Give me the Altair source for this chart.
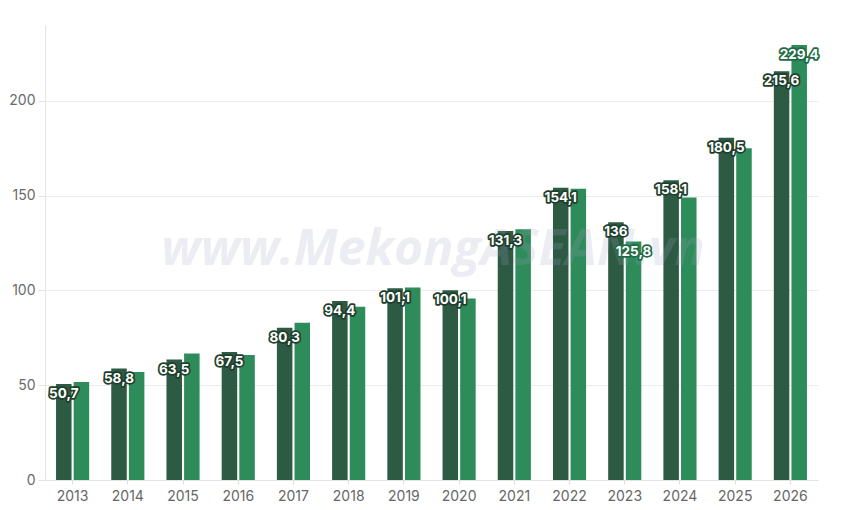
import altair as alt
import pandas as pd

years = ["2013", "2014", "2015", "2016", "2017", "2018", "2019",
         "2020", "2021", "2022", "2023", "2024", "2025", "2026"]
series_a = [50.7, 58.8, 63.5, 67.5, 80.3, 94.4, 101.1,
            100.1, 131.3, 154.1, 136, 158.1, 180.5, 215.6]
series_b = [51.7, 57.0, 66.7, 66.0, 82.9, 91.4, 101.6,
            95.8, 132.3, 153.6, 125.8, 149.0, 175.0, 229.4]
labels_a = ["50,7", "58,8", "63,5", "67,5", "80,3", "94,4", "101,1",
            "100,1", "131,3", "154,1", "136", "158,1", "180,5", "215,6"]
labels_b = ["", "", "", "", "", "", "", "", "", "", "125,8", "", "", "229,4"]
series_names = ["A", "B"]
watermark = "www.MekongASEAN.vn"

rows = []
for i, y in enumerate(years):
    rows.append({"year": y, "series": series_names[0], "value": series_a[i], "label": labels_a[i]})
    rows.append({"year": y, "series": series_names[1], "value": series_b[i], "label": labels_b[i]})
df = pd.DataFrame(rows)

FONT = "Inter"
colors = ["#2d5a43", "#2e8b5a"]
halo = ["#1f3f2e", "#1f6b45"]

x_enc = alt.X("year:N", title=None, sort=years,
              scale=alt.Scale(paddingInner=0.4, paddingOuter=0.2),
              axis=alt.Axis(labelAngle=0, labelFontSize=14, labelColor="#666666",
                            labelFont=FONT, tickSize=4, tickColor="#dddddd",
                            domainColor="#e3e3e3", labelPadding=5, grid=False))
xo = alt.XOffset("series:N", scale=alt.Scale(paddingInner=0.12), sort=series_names)
y_enc = alt.Y("value:Q", title=None,
              scale=alt.Scale(domain=[0, 240], nice=False),
              axis=alt.Axis(values=[0, 50, 100, 150, 200], labelFontSize=14,
                            labelColor="#6a6a6a", labelFont=FONT, tickSize=7,
                            tickColor="#e3e3e3", domainColor="#e3e3e3",
                            gridColor="#ececec", labelPadding=3))

base = alt.Chart(df)

bars = base.mark_bar().encode(
    x=x_enc, xOffset=xo, y=y_enc,
    color=alt.Color("series:N", scale=alt.Scale(domain=series_names, range=colors), legend=None),
)

wm = alt.Chart(pd.DataFrame({"t": [watermark]})).mark_text(
    font="Open Sans", fontSize=50, fontWeight="bold", fontStyle="italic",
    color="#a2a2c4", opacity=0.2, align="center", baseline="middle"
).encode(text="t:N", x=alt.value(388), y=alt.value(225))

lab = base.transform_filter("datum.label != ''")
text_halo = lab.mark_text(
    fontSize=13.5, fontWeight="bold", font=FONT, baseline="middle", align="center",
    dy=10, strokeWidth=3.5, strokeJoin="round"
).encode(
    x=alt.X("year:N", sort=years), xOffset=alt.XOffset("series:N", sort=series_names),
    y="value:Q", text="label:N",
    stroke=alt.Stroke("series:N", scale=alt.Scale(domain=series_names, range=halo), legend=None),
    fill=alt.Fill("series:N", scale=alt.Scale(domain=series_names, range=halo), legend=None),
)
text_fg = lab.mark_text(
    fontSize=13.5, fontWeight="bold", font=FONT, baseline="middle", align="center",
    dy=10, color="white"
).encode(
    x=alt.X("year:N", sort=years), xOffset=alt.XOffset("series:N", sort=series_names),
    y="value:Q", text="label:N",
)

chart = alt.layer(bars, wm, text_halo, text_fg).resolve_scale(
    color="independent", stroke="independent", fill="independent"
).properties(
    width=773, height=455,
    background="white",
    autosize=alt.AutoSizeParams(type="none"),
    padding={"left": 45, "top": 25, "right": 32, "bottom": 30},
).configure_view(stroke=None)

chart.save("out.html", embed_options={"renderer": "svg", "actions": False})
